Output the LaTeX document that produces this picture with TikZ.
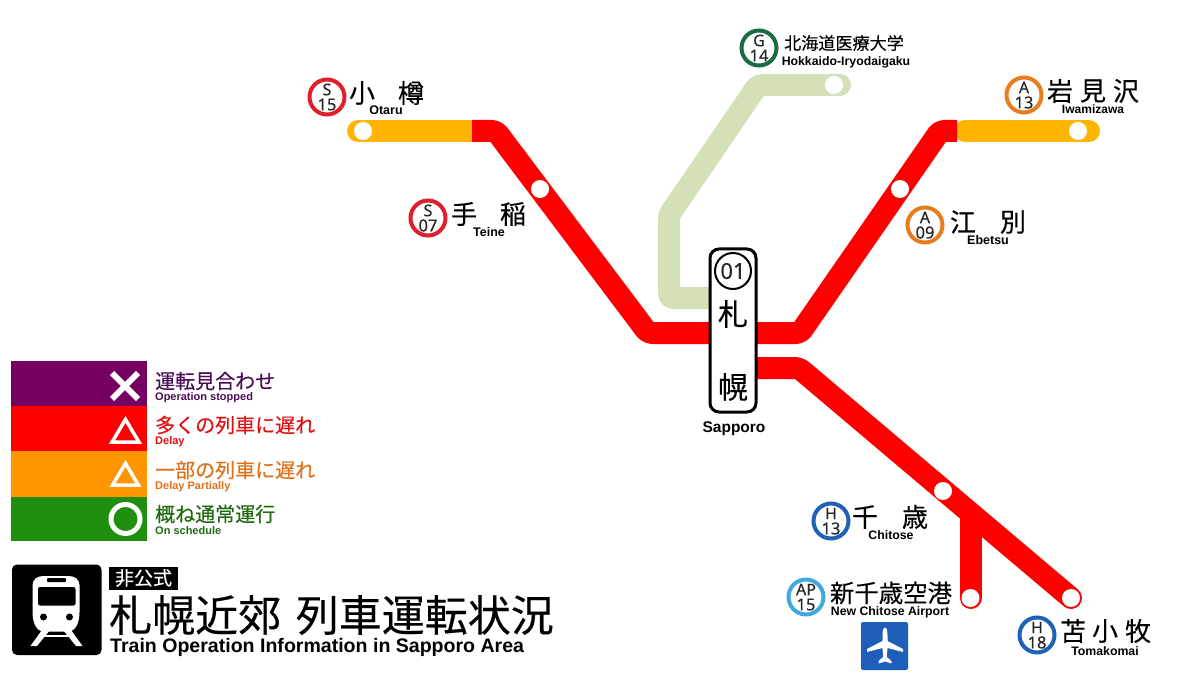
\documentclass[tikz,border=0pt]{standalone}
\usepackage{fontspec}
\setmainfont{Liberation Sans}
\newfontfamily\cjkf[FakeBold=0.25]{Noto Sans CJK JP}
\newfontfamily\numf[FakeBold=0.3]{Noto Sans}
\newcommand{\fs}[1]{\fontsize{#1}{#1}\selectfont}
\definecolor{lred}{HTML}{FF0000}
\definecolor{lorange}{HTML}{FFB400}
\definecolor{lgreen}{HTML}{D3E0B8}
\definecolor{rS}{HTML}{DF1F2B}
\definecolor{rG}{HTML}{1A6B43}
\definecolor{rA}{HTML}{E87D1E}
\definecolor{rH}{HTML}{1F62B5}
\definecolor{rAP}{HTML}{3FA9E0}
\definecolor{lgP}{HTML}{750062}
\definecolor{lgO}{HTML}{FF9500}
\definecolor{lgG}{HTML}{1F8F10}
\definecolor{txP}{HTML}{4B0D57}
\definecolor{txR}{HTML}{E01010}
\definecolor{txO}{HTML}{E0701A}
\definecolor{txG}{HTML}{1F6A10}
\tikzset{
  x=1pt,y=-1pt,
  track/.style={line width=22pt,rounded corners=4pt,line join=round},
  dotst/.style={circle,fill=white,draw=none,minimum size=18pt,inner sep=0pt},
  ringst/.style={circle,draw=#1,line width=4pt,fill=white,minimum size=35pt,inner sep=0pt,align=center},
  cj/.style={font=\cjkf\fs{#1},inner sep=0pt,text=black},
  en/.style={font=\bfseries\fs{#1},inner sep=0pt,text=black,yshift=-1pt},
  lgband/.style={fill=#1,draw=none},
  lgicon/.style={draw=white,line width=#1},
  lgjp/.style={font=\cjkf\fs{20},text=#1,inner sep=0pt,anchor=west},
  lgen/.style={font=\bfseries\fs{11},text=#1,inner sep=0pt,anchor=west,yshift=-1pt},
}
\newcommand{\ringlabel}[5]{\node[ringst=#1] (#2) at (#3) {};
  \node[font=\numf\fs{16},inner sep=0pt,text=black!85] (#2a) at ($(#3)+(0,-7.5)$) {#4};
  \node[font=\numf\fs{16.5},inner sep=0pt,text=black!85] (#2b) at ($(#3)+(0,7.5)$) {#5};}
\usetikzlibrary{calc}
\begin{document}
\begin{tikzpicture}
\useasboundingbox (0,0) rectangle (1200,679);
% stations
\node[dotst] (otaru) at (363,131) {};
\node[dotst] (teine) at (540,189) {};
\node[dotst] (iryo) at (834,85) {};
\node[dotst] (iwa) at (1078,131) {};
\node[dotst] (ebe) at (900,189) {};
\node[dotst] (chi) at (943,491) {};
\node[dotst] (air) at (970.5,598) {};
\node[dotst] (tom) at (1071,598) {};
\coordinate (oL) at (358,131);
\coordinate (oR) at (1089,131);
\coordinate (gE) at (840,85);
% tracks
\draw[track,lgreen,line cap=round] (gE) -- (758,85) -- (669,215) -- (669,298) -- (720,298);
\draw[track,lorange,line cap=round] (oL) -- (480,131);
\draw[track,lorange,line cap=round] (oR) -- (965,131);
\draw[track,lred] (472,131) -- (496,131) -- (648,333) -- (720,333);
\draw[track,lred] (957,131) -- (940,131) -- (800,333) -- (745,333);
\draw[track,lred,line cap=round,rounded corners=0pt] (970.5,520) -- (air.center);
\draw[track,lred,line cap=round] (745,368) -- (799,368) -- (tom.center);
\foreach \n in {otaru,teine,iryo,iwa,ebe,chi,air,tom} \node[dotst] at (\n) {};
% Sapporo
\node[draw=black,line width=3pt,fill=white,rounded corners=9pt,minimum width=46pt,minimum height=163pt,inner sep=0pt] (spk) at (733,330.5) {};
\node[circle,draw=black,line width=2pt,minimum size=36pt,inner sep=0pt,font=\numf\fs{22},text=black!85] (sp1) at (733,271) {01};
\node[cj=30] (sp2) at (733,314) {札};
\node[cj=30] (sp3) at (733,387) {幌};
\node[en=15.5] (sp4) at (734,428) {Sapporo};
% labels
\ringlabel{rS}{r1}{327,97}{S}{15}
\node[cj=26] (a1) at (362,93) {小}; \node[cj=26] (a2) at (411,93) {樽}; \node[en=12.5] (a3) at (386,109.5) {Otaru};
\ringlabel{rS}{r2}{428,218}{S}{07}
\node[cj=26] (b1) at (464,214) {手}; \node[cj=26] (b2) at (513,214) {稲}; \node[en=12.5] (b3) at (489,231) {Teine};
\ringlabel{rG}{r3}{759,48}{G}{14}
\node[cj=17.1] (c1) at (844,43) {北海道医療大学}; \node[en=12.3] (c3) at (846,61) {Hokkaido-Iryodaigaku};
\ringlabel{rA}{r4}{1024,95}{A}{13}
\node[cj=26] (d1) at (1060,91) {岩}; \node[cj=26] (d2) at (1093,91) {見}; \node[cj=26] (d3) at (1126,91) {沢}; \node[en=12] (d4) at (1093,108.5) {Iwamizawa};
\ringlabel{rA}{r5}{925,225}{A}{09}
\node[cj=26] (e1) at (963,222) {江}; \node[cj=26] (e2) at (1013,222) {別}; \node[en=12.5] (e3) at (988,239.5) {Ebetsu};
\ringlabel{rH}{r6}{831,521}{H}{13}
\node[cj=26] (f1) at (865,517) {千}; \node[cj=26] (f2) at (915,517) {歳}; \node[en=12.3] (f3) at (891,534) {Chitose};
\ringlabel{rAP}{r7}{806,597}{AP}{15}
\node[cj=24.4] (g1) at (891,593) {新千歳空港}; \node[en=12.3] (g3) at (890,611) {New Chitose Airport};
\ringlabel{rH}{r8}{1037,635}{H}{18}
\node[cj=26] (h1) at (1073,631) {苫}; \node[cj=26] (h2) at (1105,631) {小}; \node[cj=26] (h3) at (1138,631) {牧}; \node[en=12.3] (h4) at (1105,650) {Tomakomai};
% airport icon
\fill[rH!95!blue,rounded corners=2pt] (861,622) rectangle (908,670);
\fill[white,rounded corners=0.6pt] (885,628) .. controls (887,628) and (887.5,632) .. (887.5,636) -- (887.5,641) -- (903,649) -- (903,652) -- (887.5,648) -- (886.8,657) -- (891.5,661) -- (891.5,663.5) -- (885,661.5) -- (878.5,663.5) -- (878.5,661) -- (883.2,657) -- (882.5,648) -- (867,652) -- (867,649) -- (882.5,641) -- (882.5,636) .. controls (882.5,632) and (883,628) .. (885,628) -- cycle;
% legend
\fill[lgband=lgP] (11,361) rectangle (147,406);
\fill[lgband=lred] (11,406) rectangle (147,451);
\fill[lgband=lgO] (11,451) rectangle (147,497);
\fill[lgband=lgG] (11,497) rectangle (147,541);
\draw[lgicon=6pt] (112,373) -- (138,399) (138,373) -- (112,399);
\draw[lgicon=3.5pt,line join=miter] (125.5,419.4) -- (139,442.2) -- (112,442.2) -- cycle;
\draw[lgicon=3.5pt,line join=miter] (125.5,463.4) -- (138.5,485.2) -- (112.5,485.2) -- cycle;
\draw[lgicon=5pt] (125.5,519) circle (14.5);
\node[lgjp=txP] (l1) at (155,381) {運転見合わせ};
\node[lgen=txP] (l1e) at (155,396.5) {Operation stopped};
\node[lgjp=txR] (l2) at (155,425) {多くの列車に遅れ};
\node[lgen=txR] (l2e) at (155,441) {Delay};
\node[lgjp=txO] (l3) at (155,470) {一部の列車に遅れ};
\node[lgen=txO] (l3e) at (155,485.5) {Delay Partially};
\node[lgjp=txG] (l4) at (155,514) {概ね通常運行};
\node[lgen=txG] (l4e) at (155,530) {On schedule};
% header
\fill[black,rounded corners=5pt] (12,564.5) rectangle (101.5,655);
\fill[white] (44,576) -- (68,576) .. controls (75,576) and (79,579) .. (79.5,585) -- (79.5,612) .. controls (79.5,622) and (76,631.5) .. (68,631.5) -- (44,631.5) .. controls (36,631.5) and (32.5,622) .. (32.5,612) -- (32.5,585) .. controls (33,579) and (37,576) .. (44,576) -- cycle;
\fill[black,rounded corners=2pt] (38,587) rectangle (75.5,605.5);
\fill[black,rounded corners=1pt] (47,578) rectangle (66,582);
\fill[black] (43.5,617) circle (3.5) (69.5,617) circle (3.5);
\fill[white] (42,630) -- (50,630) -- (37,646) -- (30.5,646) -- cycle;
\fill[white] (71,630) -- (63,630) -- (76,646) -- (82.5,646) -- cycle;
\draw[white,line width=2.5pt] (42,636) -- (71,636);
\fill[black] (109,567) rectangle (178,590);
\node[font=\cjkf\fs{19},text=white,inner sep=0pt] (h0) at (143.5,578) {非公式};
\node[font=\cjkf\fs{43},inner sep=0pt,anchor=west] (h5) at (109,615) {札幌近郊};
\node[font=\cjkf\fs{43},inner sep=0pt,anchor=east] (h6) at (554,615) {列車運転状況};
\node[font=\bfseries\fs{19.55},inner sep=0pt,anchor=west] (h7) at (110,647.5) {Train Operation Information in Sapporo Area};
\end{tikzpicture}
\end{document}
